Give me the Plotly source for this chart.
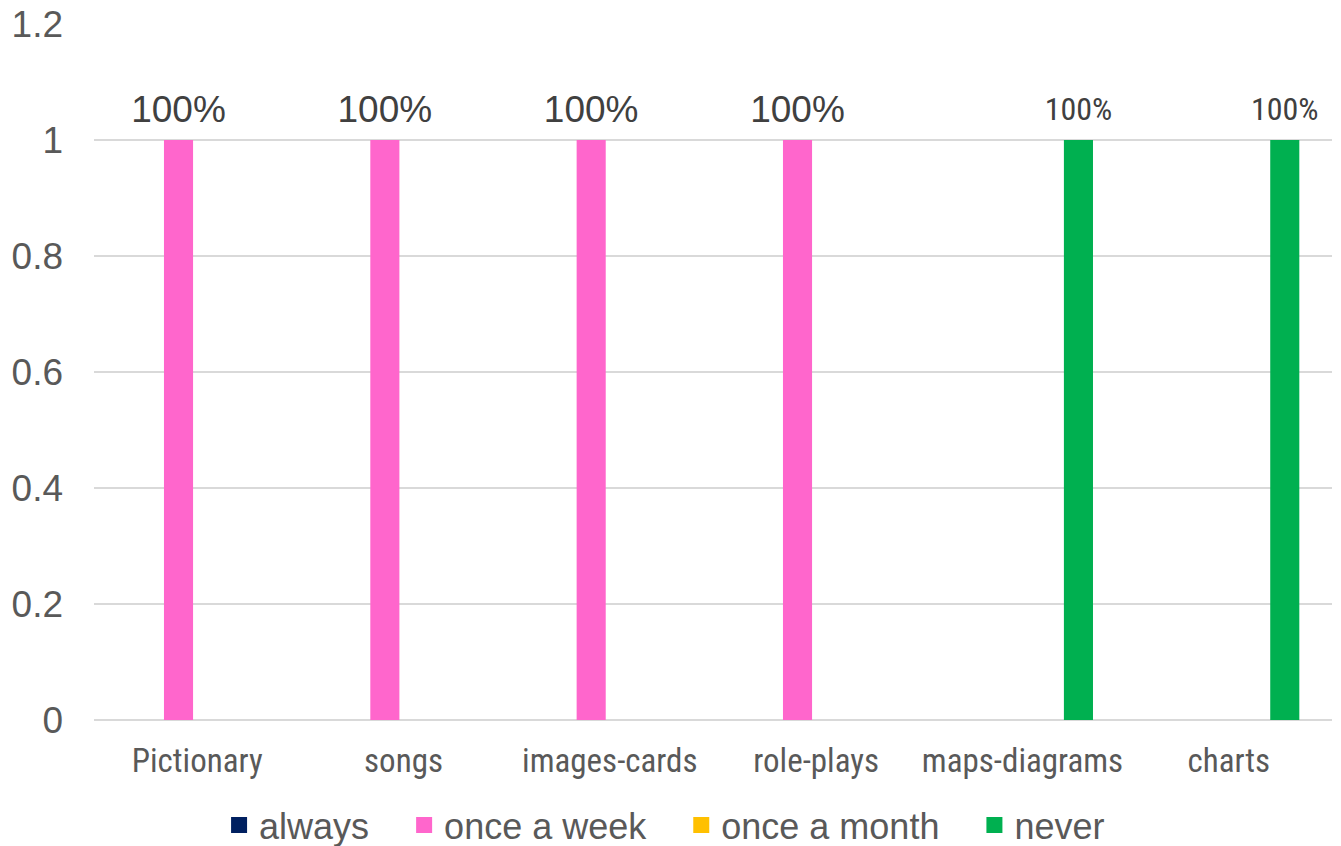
import plotly.graph_objects as go

categories = ["Pictionary", "songs", "images-cards", "role-plays", "maps-diagrams", "charts"]
series_names = ["always", "once a week", "once a month", "never"]
always = [0, 0, 0, 0, 0, 0]
once_a_week = [1, 1, 1, 1, 0, 0]
once_a_month = [0, 0, 0, 0, 0, 0]
never = [0, 0, 0, 0, 1, 1]
colors = ["#002060", "#FF66CC", "#FFC000", "#00B050"]

NARROW = "Liberation Sans Narrow, Arial Narrow, Roboto Condensed, DejaVu Sans Condensed, sans-serif"
REG = "Liberation Sans, Arial, sans-serif"

# (font family, label size, outer size controlling gap below label)
label_styles = [
    (REG, 37, 10),
    (REG, 37, 10),
    (NARROW, 32, 11),
    (NARROW, 32, 11),
]

fig = go.Figure()
for name, vals, col, (fam, sz, outer) in zip(series_names, [always, once_a_week, once_a_month, never], colors, label_styles):
    txt = [f"<span style='font-size:{sz}px'>{v:.0%}</span><br>\u00a0" if v else "" for v in vals]
    fig.add_trace(go.Bar(
        name=name, x=categories, y=vals, marker=dict(color=col, line=dict(width=0)),
        text=txt, textposition="outside", textfont=dict(family=fam, size=outer, color="#404040"),
        cliponaxis=False, constraintext="none", showlegend=False, legendgroup=name,
    ))
# legend entries (square swatches); trailing spaces widen the gap between entries
for name, col in zip(series_names, colors):
    fig.add_trace(go.Scatter(
        name=name + "\u00a0\u00a0\u00a0", x=[None], y=[None], mode="markers", legendgroup=name,
        marker=dict(symbol="square", size=18, color=col), showlegend=True,
    ))

fig.update_layout(
    barmode="group", bargap=0.277, bargroupgap=0.22,
    width=1341, height=846,
    margin=dict(l=94, r=9, t=24, b=126, autoexpand=False),
    paper_bgcolor="white", plot_bgcolor="white",
    showlegend=True,
    legend=dict(orientation="h", x=0.473, xanchor="center", y=-0.151, yanchor="middle",
                font=dict(family=REG, size=36, color="#595959"),
                itemwidth=30, traceorder="normal"),
)
fig.update_yaxes(range=[0, 1.2], dtick=0.2, showgrid=True, gridcolor="#D9D9D9", gridwidth=1.5,
                 zeroline=True, zerolinecolor="#D9D9D9", zerolinewidth=1.5,
                 tickfont=dict(family=REG, size=37, color="#595959"),
                 ticklabelstandoff=30, showline=False, automargin=False)
fig.update_xaxes(tickfont=dict(family=NARROW, size=33, color="#595959"),
                 ticklabelstandoff=18, showline=False, showgrid=False, automargin=False)

fig.write_html("out.html", config={"displayModeBar": False},
               post_script="document.body.style.margin='0';")
